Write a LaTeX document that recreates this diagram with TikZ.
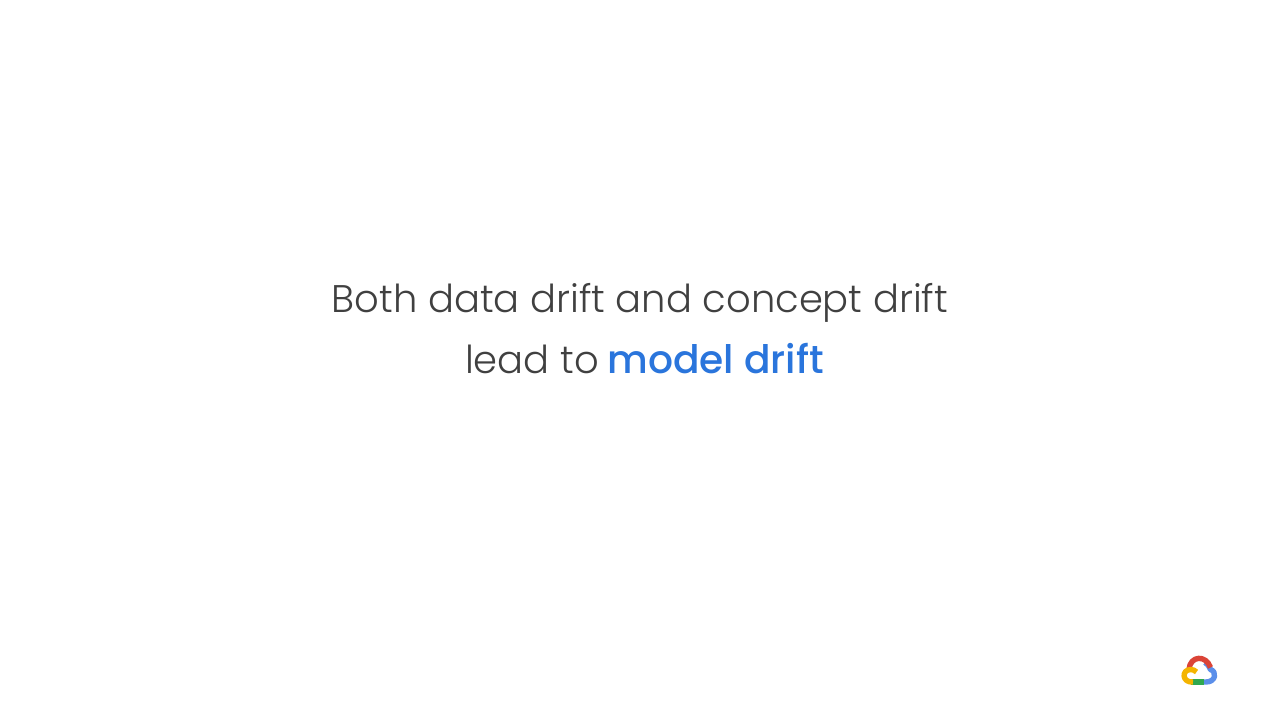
\documentclass[tikz,border=0pt]{standalone}
\usepackage{fontspec}
\setmainfont{Poppins}[UprightFont=* Light,BoldFont=* Medium]
\definecolor{inkgrey}{HTML}{404040}
\definecolor{gblue}{HTML}{2A75DC}
\definecolor{lblue}{HTML}{5B8FEA}
\definecolor{lred}{HTML}{DB4437}
\definecolor{lyellow}{HTML}{F4B400}
\definecolor{lgreen}{HTML}{2FA84F}
\tikzset{headline/.style={inner sep=0pt,anchor=base,text=inkgrey,font=\fontsize{38.5}{46}\selectfont},
logoarc/.style={line width=5.4pt,line cap=butt,line join=round}}
\begin{document}
\begin{tikzpicture}[x=1pt,y=-1pt]
\useasboundingbox (0,0) rectangle (1280,720);
\fill[white] (0,0) rectangle (1280,720);
\node[headline] (lineone) at (640,312.2) {Both data drift and concept drift};
\node[headline] (linetwo) at (644.5,373.2) {lead to\hspace{-2pt} \textcolor{gblue}{\fontsize{39.2}{46}\selectfont\bfseries model drift}};
\draw[logoarc,lblue] (1205,662.5) .. controls (1208,664.5) and (1210,667.5) .. (1210.5,669.5) .. controls (1217,671.5) and (1216,682) .. (1206,682) -- (1203,682);
\draw[logoarc,lred] (1189,669.5) .. controls (1190,655.5) and (1206,654.5) .. (1210.5,667.5);
\draw[logoarc,lgreen] (1204,682) -- (1191,682);
\draw[logoarc,lyellow] (1193,682) .. controls (1182,683) and (1181,669.5) .. (1191,669.5) .. controls (1193,669.5) and (1195,670.5) .. (1196.5,672);
\end{tikzpicture}
\end{document}
